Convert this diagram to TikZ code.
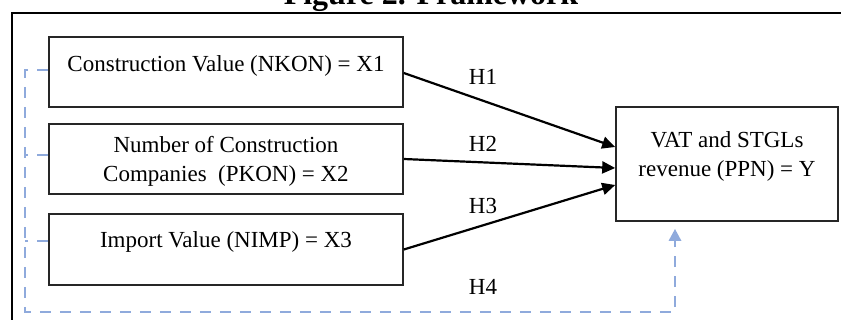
\documentclass[tikz,border=0pt]{standalone}
\usepackage{fontspec}
\setmainfont{Liberation Serif}
\usetikzlibrary{arrows.meta}
\definecolor{dblue}{RGB}{143,170,220}
\begin{document}
\begin{tikzpicture}[x=1pt,y=-1pt,
  box/.style={draw=black!85, line width=1.6pt, minimum width=354pt, minimum height=70pt, inner sep=0pt},
  txt/.style={font=\fontsize{23}{29}\selectfont, anchor=base, inner sep=0pt},
  hyp/.style={line width=2.2pt, -{Triangle[length=13pt,width=12pt]}},
  dsh/.style={draw=dblue, line width=2.8pt, dash pattern=on 11pt off 9pt},
  lab/.style={font=\fontsize{23}{29}\selectfont, inner sep=0pt}]
\useasboundingbox (0,0) rectangle (841,320);
\clip (0,0) rectangle (841,320);
% title and frame
\node[font=\bfseries\fontsize{32}{36}\selectfont, anchor=base, inner sep=0pt] (title) at (431,5) {Figure 2. Framework};
\draw[line width=2.2pt] (12,330) -- (12,13) -- (850,13);
% boxes
\node[box] (x1) at (226,72) {};
\node[box] (x2) at (226,159) {};
\node[box, minimum height=71pt] (x3) at (226,249.5) {};
\node[box, minimum width=222pt, minimum height=114pt] (y) at (727,164) {};
% texts
\node[txt] (t1) at (226,71.5) {Construction Value (NKON) = X1};
\node[txt] (t2a) at (226,153) {Number of Construction};
\node[txt] (t2b) at (226,182) {Companies\ \ (PKON) = X2};
\node[txt] (t3) at (226,248) {Import Value (NIMP) = X3};
\node[txt] (t4a) at (727,148) {VAT and STGLs};
\node[txt] (t4b) at (727,177) {revenue (PPN) = Y};
% hypotheses arrows
\draw[hyp] ([yshift=-1pt]x1.east) -- ([yshift=17pt]y.west);
\draw[hyp] (x2.east) -- ([yshift=-4pt]y.west);
\draw[hyp] (x3.east) -- ([yshift=-21pt]y.west);
\node[lab] (h1) at (483,77) {H1};
\node[lab] (h2) at (483,144) {H2};
\node[lab] (h3) at (483,206) {H3};
\node[lab] (h4) at (483,287) {H4};
% dashed H4 path
\coordinate (l1) at (25,70);
\coordinate (l2) at (25,155);
\coordinate (l3) at (25,241);
\coordinate (lb) at (25,312);
\coordinate (rb) at (675,312);
\coordinate (tip) at (675,229);
\draw[dsh] (x1.west |- l1) -- (l1) -- (lb) -- (rb) -- ([yshift=-10pt]tip);
\draw[dsh] (x2.west |- l2) -- (l2);
\draw[dsh] (x3.west |- l3) -- (l3);
\fill[dblue] (tip) -- ++(-6.5,12) -- ++(13,0) -- cycle;
\end{tikzpicture}
\end{document}
